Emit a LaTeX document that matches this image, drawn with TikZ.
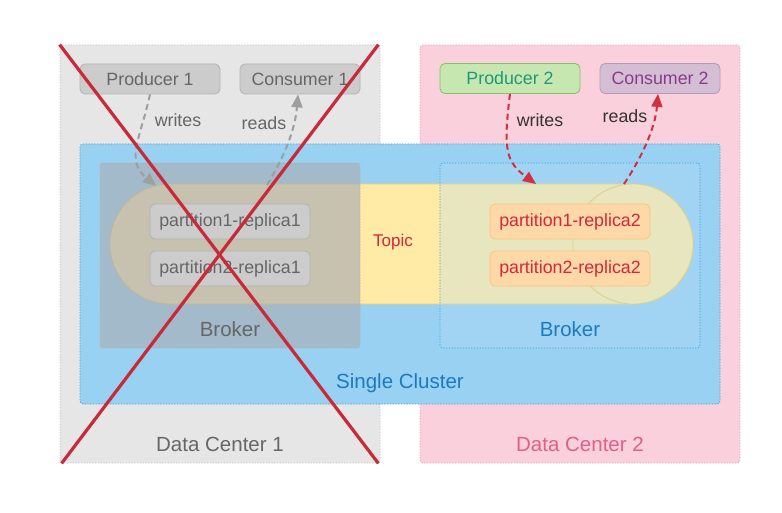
\documentclass[tikz,border=0pt]{standalone}
\usepackage{fontspec}
\setmainfont{Liberation Sans}
\usetikzlibrary{arrows.meta}
\definecolor{dcgray}{HTML}{E6E6E6}
\definecolor{dcgrayb}{HTML}{C4C4C4}
\definecolor{dcpink}{HTML}{F9D0DC}
\definecolor{dcpinkb}{HTML}{F0A8C0}
\definecolor{dcpinkt}{HTML}{E0608A}
\definecolor{clblue}{HTML}{99D1F2}
\definecolor{clblueb}{HTML}{3A9FE0}
\definecolor{clbluet}{HTML}{1B7BC0}
\definecolor{brblue}{HTML}{B4DEF8}
\definecolor{pillfill}{HTML}{FFEAA6}
\definecolor{pillb}{HTML}{F0C860}
\definecolor{redt}{HTML}{D0283C}
\definecolor{orfill}{HTML}{FFD8A8}
\definecolor{orb}{HTML}{F8C47E}
\definecolor{gfill}{HTML}{CCCCCC}
\definecolor{gborder}{HTML}{B3B3B3}
\definecolor{gtext}{HTML}{666666}
\definecolor{grfill}{HTML}{C6E8B0}
\definecolor{grb}{HTML}{88C070}
\definecolor{grt}{HTML}{1F987A}
\definecolor{pufill}{HTML}{D4BED4}
\definecolor{pub}{HTML}{B898B8}
\definecolor{put}{HTML}{8B3A8B}
\definecolor{garrow}{HTML}{9E9E9E}
\definecolor{rarrow}{HTML}{D0303F}
\definecolor{xred}{HTML}{C82A3A}
\definecolor{darkt}{HTML}{333333}
\definecolor{broverlay}{HTML}{A8AEB4}
\tikzset{
  box/.style={draw, inner sep=0pt, line width=0.8pt},
  dotb/.style={box, dash pattern=on 1.2pt off 1.6pt, rounded corners=3pt},
  small/.style={font=\fontsize{17.8}{20}\selectfont},
  big/.style={font=\fontsize{20.5}{24}\selectfont},
  graybox/.style={box, small, fill=gfill, draw=gborder, text=gtext, rounded corners=5pt, minimum height=30pt},
  partbox/.style={box, small, rounded corners=5pt, minimum width=160pt, minimum height=35pt},
  garr/.style={draw=garrow, line width=2pt, dash pattern=on 6pt off 4pt, -{Triangle[length=13pt,width=11pt,fill=garrow]}},
  rarr/.style={draw=rarrow, line width=2pt, dash pattern=on 6pt off 4pt, -{Triangle[length=13pt,width=11pt,fill=rarrow]}},
  lbl/.style={inner sep=0pt, anchor=center},
}
\begin{document}
\begin{tikzpicture}[x=1pt,y=-1pt]
\useasboundingbox (0,0) rectangle (782,513);
\fill[white] (0,0) rectangle (782,513);
% data centers
\node[dotb, fill=dcgray, draw=dcgrayb, minimum width=320pt, minimum height=418pt] (dc1) at (220,254) {};
\node[dotb, fill=dcpink, draw=dcpinkb, minimum width=320pt, minimum height=418pt] (dc2) at (580,254) {};
% cluster
\node[dotb, fill=clblue, draw=clblueb, minimum width=640pt, minimum height=260pt] (cl) at (400,274) {};
% topic pill
\node[box, fill=pillfill, draw=pillb, rounded corners=60pt, minimum width=583pt, minimum height=120pt] (pill) at (401.5,244) {};
\node[box, circle, fill=pillfill, draw=pillb, minimum size=120pt] (cap) at (633,244) {};
% brokers
\node[dotb, fill=broverlay, fill opacity=0.65, draw=gray!60, minimum width=260pt, minimum height=185pt] (br1) at (230,255.5) {};
\node[dotb, fill=brblue, fill opacity=0.3, draw=clblueb, minimum width=260pt, minimum height=185pt] (br2) at (570,255.5) {};
% partitions
\node[partbox, fill=gfill, draw=gborder, text=gtext] (p11) at (230,221.5) {partition1-replica1};
\node[partbox, fill=gfill, draw=gborder, text=gtext] (p21) at (230,268.5) {partition2-replica1};
\node[partbox, fill=orfill, draw=orb, text=redt] (p12) at (570,221.5) {partition1-replica2};
\node[partbox, fill=orfill, draw=orb, text=redt] (p22) at (570,268.5) {partition2-replica2};
% producers / consumers
\node[graybox, minimum width=140pt] (prod1) at (150,79) {Producer 1};
\node[graybox, minimum width=120pt] (cons1) at (300,79) {Consumer 1};
\node[graybox, minimum width=140pt, fill=grfill, draw=grb, text=grt] (prod2) at (510,78.5) {Producer 2};
\node[graybox, minimum width=120pt, fill=pufill, draw=pub, text=put] (cons2) at (660,78.5) {Consumer 2};
% labels
\node[lbl, big, text=gtext] (ldc1) at (220,444) {Data Center 1};
\node[lbl, big, text=dcpinkt] (ldc2) at (580,444) {Data Center 2};
\node[lbl, big, text=clbluet] (lcl) at (400,383.5) {Single Cluster};
\node[lbl, big, text=gtext] (lbr1) at (230,329.5) {Broker};
\node[lbl, big, text=clbluet] (lbr2) at (570,329.5) {Broker};
\node[lbl, small, text=redt, font=\fontsize{17}{19}\selectfont] (ltopic) at (393,242) {Topic};
% connector ends on the topic
\coordinate (w1) at (156,186);
\coordinate (r1) at (267,185);
\coordinate (w2) at (536,184);
\coordinate (r2) at (624,184);
% connectors
\draw[garr] (prod1.south) .. controls (140,140) and (125,160) .. (w1);
\draw[garr] (r1) .. controls (285,155) and (295,130) .. (cons1.south -| 298,0);
\draw[rarr] (prod2.south) .. controls (503,150) and (506,162) .. (w2);
\draw[rarr] (r2) .. controls (640,160) and (655,130) .. (cons2.south -| 658,0);
\node[lbl, small, text=gtext] (lw1) at (178,120) {writes};
\node[lbl, small, text=gtext] (lr1) at (264,123) {reads};
\node[lbl, small, text=darkt] (lw2) at (540,120) {writes};
\node[lbl, small, text=darkt] (lr2) at (625,116) {reads};
% the cross over data center 1
\draw[xred, line width=3.2pt] (dc1.north west) -- ([xshift=-2pt]dc1.south east);
\draw[xred, line width=3.2pt] ([xshift=-2pt]dc1.north east) -- ([xshift=2pt]dc1.south west);
\end{tikzpicture}
\end{document}
